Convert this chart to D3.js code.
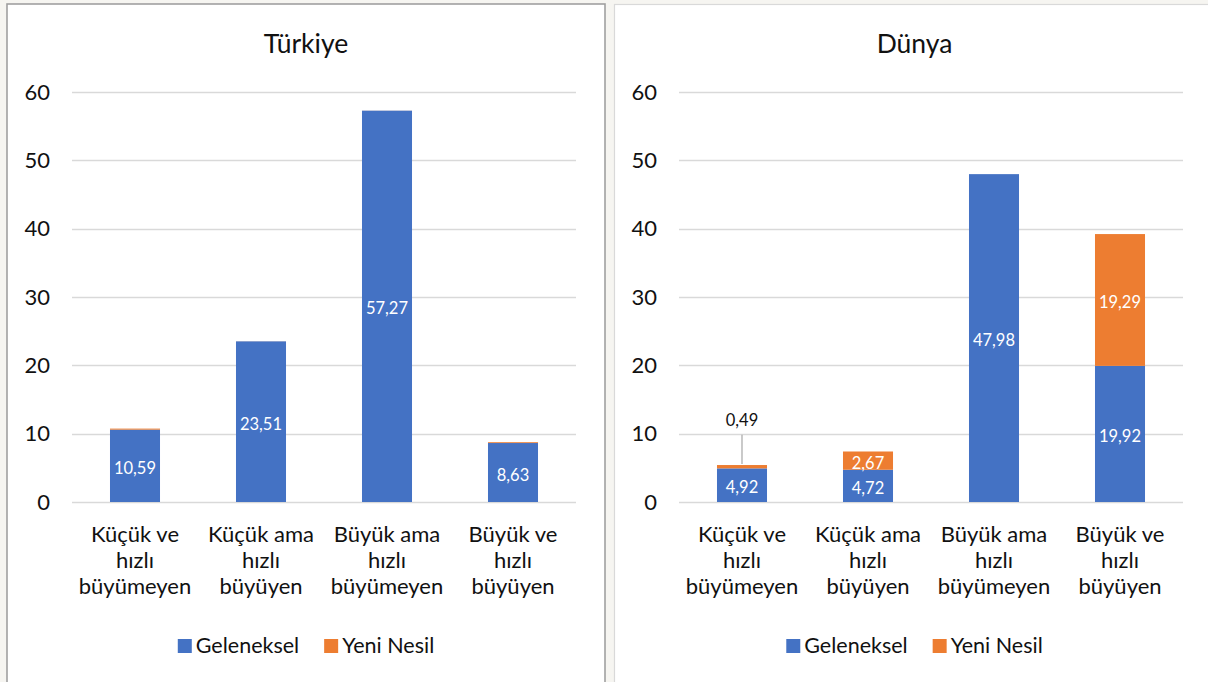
<!DOCTYPE html>
<html>
<head>
<meta charset="utf-8">
<script src="https://cdn.jsdelivr.net/npm/d3@7/dist/d3.min.js"></script>
<style>
  html, body { margin: 0; padding: 0; background: #f6f5f1; }
  svg { display: block; }
  text { font-family: Lato, "Open Sans", "Liberation Sans", sans-serif; }
</style>
</head>
<body>
<svg id="chart" width="1208" height="682"></svg>
<script>
// ---- Data ----
const categories = ["Küçük ve\nhızlı\nbüyümeyen", "Küçük ama\nhızlı\nbüyüyen", "Büyük ama\nhızlı\nbüyümeyen", "Büyük ve\nhızlı\nbüyüyen"];
const seriesNames = ["Geleneksel", "Yeni Nesil"];
const seriesColors = ["#4472C4", "#ED7D31"];
const yTicks = [0, 10, 20, 30, 40, 50, 60];
const turkiyeGeleneksel = [10.59, 23.51, 57.27, 8.63];
const turkiyeYeniNesil = [0.15, 0.01, 0.01, 0.12];
const dunyaGeleneksel = [4.92, 4.72, 47.98, 19.92];
const dunyaYeniNesil = [0.49, 2.67, 0, 19.29];

const fmt = v => v.toFixed(2).replace(".", ",");

const svg = d3.select("#chart");

function drawPanel(opts) {
  const g = svg.append("g");
  // panel box
  g.append("rect")
    .attr("x", opts.box[0]).attr("y", opts.box[1])
    .attr("width", opts.box[2]).attr("height", opts.box[3])
    .attr("fill", "#ffffff")
    .attr("stroke", opts.boxStroke).attr("stroke-width", opts.boxStrokeWidth);

  const panelCenter = opts.box[0] + opts.box[2] / 2;

  g.append("text")
    .attr("x", panelCenter).attr("y", 53)
    .attr("text-anchor", "middle")
    .attr("font-size", 26.5).attr("fill", "#111")
    .text(opts.title);

  const x = d3.scaleBand().domain(categories)
    .range(opts.xRange).paddingInner(0.603).paddingOuter(0.3015);
  const y = d3.scaleLinear().domain([0, 60]).range([502, 92]);

  // gridlines
  g.append("g").selectAll("line").data(yTicks).join("line")
    .attr("x1", opts.xRange[0]).attr("x2", opts.xRange[1])
    .attr("y1", d => Math.round(y(d)) + 0.5).attr("y2", d => Math.round(y(d)) + 0.5)
    .attr("stroke", "#d9d9d9").attr("stroke-width", 1.3);

  // y axis labels
  const yAxis = d3.axisLeft(y).tickValues(yTicks).tickSize(0).tickPadding(0)
    .tickFormat(d3.format("d"));
  const ya = g.append("g").attr("transform", `translate(${opts.xRange[0] - 22},0)`).call(yAxis);
  ya.select(".domain").remove();
  ya.selectAll("text").attr("font-size", 22).attr("fill", "#111")
    .attr("font-family", "Lato, 'Open Sans', sans-serif");

  // stacked data
  const rows = categories.map((c, i) => ({ cat: c, Geleneksel: opts.s1[i], "Yeni Nesil": opts.s2[i] }));
  const stacked = d3.stack().keys(seriesNames)(rows);

  stacked.forEach((layer, li) => {
    g.append("g").selectAll("rect").data(layer).join("rect")
      .attr("x", d => x(d.data.cat))
      .attr("width", x.bandwidth())
      .attr("y", d => y(d[1]))
      .attr("height", d => Math.max(0, y(d[0]) - y(d[1])))
      .attr("fill", seriesColors[li]);
  });

  // data labels
  stacked.forEach((layer, li) => {
    if (!opts.labelSeries[li]) return;
    layer.forEach((d, i) => {
      const v = d[1] - d[0];
      if (v <= 0) return;
      const cx = x(d.data.cat) + x.bandwidth() / 2;
      const h = y(d[0]) - y(d[1]);
      if (h < 12) {
        // outside label with leader line
        const ly = y(10);
        g.append("line")
          .attr("x1", cx).attr("x2", cx)
          .attr("y1", ly + 1).attr("y2", y(d[1]) - 1)
          .attr("stroke", "#a6a6a6").attr("stroke-width", 1.2);
        g.append("text")
          .attr("x", cx).attr("y", ly - 14)
          .attr("text-anchor", "middle").attr("dominant-baseline", "central")
          .attr("font-size", 16.5).attr("fill", "#111")
          .text(fmt(v));
      } else {
        g.append("text")
          .attr("x", cx).attr("y", (y(d[0]) + y(d[1])) / 2 + 2)
          .attr("text-anchor", "middle").attr("dominant-baseline", "central")
          .attr("font-size", 16.5).attr("fill", "#ffffff")
          .text(fmt(v));
      }
    });
  });

  // category labels
  const xl = g.append("g");
  categories.forEach(c => {
    const t = xl.append("text")
      .attr("x", x(c) + x.bandwidth() / 2)
      .attr("text-anchor", "middle")
      .attr("font-size", 22).attr("fill", "#111");
    c.split("\n").forEach((line, k) => {
      t.append("tspan").attr("x", x(c) + x.bandwidth() / 2).attr("y", 542 + k * 26).text(line);
    });
  });

  // legend
  const lg = g.append("g");
  const items = lg.selectAll("g").data(seriesNames).join("g");
  items.append("rect").attr("width", 14).attr("height", 14).attr("y", 639)
    .attr("fill", (d, i) => seriesColors[i]);
  items.append("text").attr("x", 18).attr("y", 653)
    .attr("font-size", 21.5).attr("fill", "#111").text(d => d);
  let cursor = 0;
  items.each(function() {
    d3.select(this).attr("transform", `translate(${cursor},0)`);
    cursor += this.getBBox().width + 25;
  });
  const totalW = cursor - 25;
  lg.attr("transform", `translate(${panelCenter - totalW / 2},0)`);
}

drawPanel({
  title: "Türkiye",
  box: [7, 4, 598, 700],
  boxStroke: "#a0a0a0", boxStrokeWidth: 1.6,
  xRange: [72, 576],
  s1: turkiyeGeleneksel, s2: turkiyeYeniNesil,
  labelSeries: [true, false]
});

drawPanel({
  title: "Dünya",
  box: [614.5, 4.5, 600, 700],
  boxStroke: "#d9d9d9", boxStrokeWidth: 1.2,
  xRange: [679, 1183],
  s1: dunyaGeleneksel, s2: dunyaYeniNesil,
  labelSeries: [true, true]
});
</script>
</body>
</html>
